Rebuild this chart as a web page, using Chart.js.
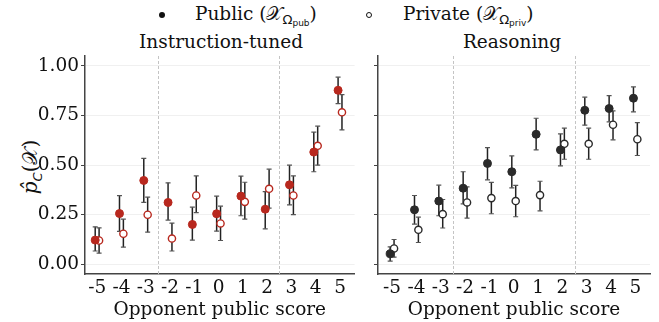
<!DOCTYPE html>
<html>
<head>
<meta charset="utf-8">
<script src="https://cdn.jsdelivr.net/npm/chart.js@4.4.1/dist/chart.umd.min.js"></script>
<style>
  body { margin: 0; background: #fff; width: 659px; height: 322px; position: relative; overflow: hidden; font-family: "DejaVu Serif", serif; }
  canvas { position: absolute; top: 0; }
  #left-wrap { position: absolute; left: 0; top: 0; width: 360px; height: 322px; }
  #right-wrap { position: absolute; left: 360px; top: 0; width: 299px; height: 322px; }
  .title { position: absolute; top: 31px; font-size: 18.5px; color: #111; white-space: nowrap; transform: translateX(-50%); }
  .legend { position: absolute; top: 3px; font-size: 18.5px; color: #111; white-space: nowrap; }
  .mark { position: absolute; width: 6px; height: 6px; border-radius: 50%; box-sizing: border-box; }
  .sub { font-family: "DejaVu Sans", sans-serif; font-size: 13px; position: relative; top: 4px; }
  .subsub { font-size: 9px; position: relative; top: 2px; }
  .ylab { position: absolute; left: 30px; top: 167px; transform: translate(-50%, -50%) rotate(-90deg); font-size: 20px; white-space: nowrap; color: #111; }
</style>
</head>
<body>
<div class="mark" style="left:159px; top:12px; background:#111;"></div>
<div class="legend" style="left:195px;">Public (𝒳<span class="sub">Ω<span class="subsub">pub</span></span>)</div>
<div class="mark" style="left:366px; top:12px; border:1px solid #111;"></div>
<div class="legend" style="left:403px;">Private (𝒳<span class="sub">Ω<span class="subsub">priv</span></span>)</div>
<div class="title" style="left:221px;">Instruction-tuned</div>
<div class="title" style="left:512px;">Reasoning</div>
<div class="ylab"><i>p̂</i><span class="sub" style="font-size:13px;top:5px;font-style:italic;">C</span>(𝒳)</div>
<div id="left-wrap"><canvas id="left-chart"></canvas></div>
<div id="right-wrap"><canvas id="right-chart"></canvas></div>
<script>
// opponent public score categories
const scores = [-5, -4, -3, -2, -1, 0, 1, 2, 3, 4, 5];
const yTicks = [0, 0.25, 0.5, 0.75, 1.0];
const dividers = [-2.5, 2.5];

// Instruction-tuned
const instPub = [0.121, 0.255, 0.422, 0.311, 0.200, 0.254, 0.343, 0.277, 0.400, 0.565, 0.877];
const instPubLo = [0.066, 0.165, 0.311, 0.222, 0.121, 0.166, 0.244, 0.178, 0.299, 0.466, 0.810];
const instPubHi = [0.188, 0.345, 0.533, 0.410, 0.287, 0.343, 0.444, 0.366, 0.499, 0.666, 0.943];
const instPriv = [0.119, 0.153, 0.249, 0.129, 0.346, 0.205, 0.314, 0.380, 0.346, 0.597, 0.766];
const instPrivLo = [0.055, 0.086, 0.161, 0.066, 0.260, 0.119, 0.227, 0.282, 0.250, 0.499, 0.677];
const instPrivHi = [0.183, 0.227, 0.338, 0.207, 0.445, 0.292, 0.413, 0.479, 0.445, 0.696, 0.855];

// Reasoning
const reasPub = [0.052, 0.274, 0.318, 0.383, 0.508, 0.466, 0.655, 0.576, 0.776, 0.785, 0.837];
const reasPubLo = [0.015, 0.202, 0.244, 0.304, 0.425, 0.385, 0.576, 0.496, 0.701, 0.718, 0.768];
const reasPubHi = [0.087, 0.346, 0.398, 0.466, 0.588, 0.546, 0.736, 0.657, 0.842, 0.850, 0.894];
const reasPriv = [0.079, 0.173, 0.252, 0.311, 0.333, 0.318, 0.348, 0.607, 0.607, 0.703, 0.630];
const reasPrivLo = [0.035, 0.109, 0.182, 0.232, 0.254, 0.239, 0.269, 0.529, 0.529, 0.627, 0.548];
const reasPrivHi = [0.124, 0.237, 0.326, 0.390, 0.412, 0.397, 0.418, 0.686, 0.686, 0.773, 0.714];

const serif = "'DejaVu Serif', serif";
const dodge = 0.08;

// error bars + dashed separators, drawn with the chart scales
const errorBarPlugin = {
    id: 'errorBars',
    beforeDatasetsDraw(chart) {
        const { ctx, chartArea, scales: { x, y } } = chart;
        ctx.save();
        ctx.setLineDash([3, 2]);
        ctx.strokeStyle = '#c4c4c4';
        ctx.lineWidth = 1;
        dividers.forEach(d => {
            const px = Math.round(x.getPixelForValue(d)) + 0.5;
            ctx.beginPath();
            ctx.moveTo(px, chartArea.top);
            ctx.lineTo(px, chartArea.bottom);
            ctx.stroke();
        });
        ctx.setLineDash([]);
        chart.data.datasets.forEach(ds => {
            ds.data.forEach(pt => {
                const px = x.getPixelForValue(pt.x);
                const lo = y.getPixelForValue(pt.lo);
                const hi = y.getPixelForValue(pt.hi);
                ctx.strokeStyle = '#222222';
                ctx.lineWidth = 1.5;
                ctx.beginPath();
                ctx.moveTo(px, lo);
                ctx.lineTo(px, hi);
                ctx.stroke();
                ctx.strokeStyle = '#555555';
                ctx.lineWidth = 1.2;
                ctx.beginPath();
                ctx.moveTo(px - 2.5, lo);
                ctx.lineTo(px + 2.5, lo);
                ctx.moveTo(px - 2.5, hi);
                ctx.lineTo(px + 2.5, hi);
                ctx.stroke();
            });
        });
        ctx.restore();
    }
};

function makePoints(vals, lo, hi, shift) {
    return scores.map((s, i) => ({ x: s + shift, y: vals[i], lo: lo[i], hi: hi[i] }));
}

function makeChart(id, color, series, opts) {
    const ctx = document.getElementById(id).getContext('2d');
    return new Chart(ctx, {
        type: 'scatter',
        data: {
            datasets: [
                {
                    label: 'Public',
                    data: makePoints(series.pub, series.pubLo, series.pubHi, -dodge),
                    pointRadius: 4,
                    pointBackgroundColor: color,
                    pointBorderColor: color,
                    pointBorderWidth: 1
                },
                {
                    label: 'Private',
                    data: makePoints(series.priv, series.privLo, series.privHi, dodge),
                    pointRadius: 3.6,
                    pointBackgroundColor: '#ffffff',
                    pointBorderColor: color,
                    pointBorderWidth: 1.4
                }
            ]
        },
        options: {
            responsive: false,
            animation: false,
            layout: { padding: { top: 56, right: opts.padRight, left: 0, bottom: 0 } },
            plugins: { legend: { display: false }, tooltip: { enabled: false } },
            scales: {
                x: {
                    type: 'linear',
                    min: opts.xMin,
                    max: 5.6,
                    afterBuildTicks: scale => { scale.ticks = scores.map(v => ({ value: v })); },
                    afterFit: scale => { scale.height = 48; },
                    grid: { display: false, drawTicks: false },
                    border: { display: true, color: '#444444', width: 1.5 },
                    ticks: { color: '#111', font: { family: serif, size: 18.5 }, padding: 3, maxRotation: 0, autoSkip: false },
                    title: { display: true, text: 'Opponent public score', color: '#111', font: { family: serif, size: 18.5 }, padding: { top: 0, bottom: 1 } }
                },
                y: {
                    min: -0.05,
                    max: 1.05,
                    afterBuildTicks: scale => { scale.ticks = yTicks.map(v => ({ value: v })); },
                    afterFit: scale => { scale.width = opts.yWidth; },
                    grid: { color: '#f0f0f0', tickColor: '#444444', tickLength: 4, lineWidth: 1 },
                    border: { display: true, color: '#444444', width: 1.5 },
                    ticks: {
                        display: opts.yLabels,
                        color: '#111',
                        padding: 2,
                        font: { family: serif, size: 18.5 },
                        callback: v => v.toFixed(2)
                    }
                }
            }
        },
        plugins: [errorBarPlugin]
    });
}

function sizeCanvas(id, w, h) {
    const c = document.getElementById(id);
    c.width = w;
    c.height = h;
    c.style.width = w + 'px';
    c.style.height = h + 'px';
}

sizeCanvas('left-chart', 360, 322);
sizeCanvas('right-chart', 299, 322);

makeChart('left-chart', '#b8281e', {
    pub: instPub, pubLo: instPubLo, pubHi: instPubHi,
    priv: instPriv, privLo: instPrivLo, privHi: instPrivHi
}, { xMin: -5.5, padRight: 4, yWidth: 85, yLabels: true });

makeChart('right-chart', '#2a2a2a', {
    pub: reasPub, pubLo: reasPubLo, pubHi: reasPubHi,
    priv: reasPriv, privLo: reasPrivLo, privHi: reasPrivHi
}, { xMin: -5.58, padRight: 9, yWidth: 18, yLabels: false });
</script>
</body>
</html>
